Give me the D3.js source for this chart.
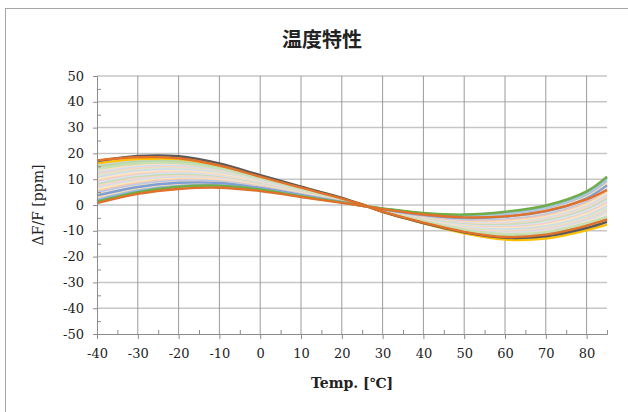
<!DOCTYPE html>
<html>
<head>
<meta charset="utf-8">
<script src="https://cdn.jsdelivr.net/npm/d3@7"></script>
<style>
    body { margin: 0; background: #fff; }
    #chartContainer { width: 628px; height: 412px; }
</style>
</head>
<body>
<div id="chartContainer"></div>
<script>
// temperatures where each sample was read (deg C)
var temps = [-40, -30, -20, -10, 0, 10, 20, 25, 30, 40, 50, 60, 70, 80, 85];
var xTickValues = [-40, -30, -20, -10, 0, 10, 20, 30, 40, 50, 60, 70, 80];
var xMinorValues = [-35, -25, -15, -5, 5, 15, 25, 35, 45, 55, 65, 75, 85];
var yTickValues = [-50, -40, -30, -20, -10, 0, 10, 20, 30, 40, 50];
var yMinorValues = [-45, -35, -25, -15, -5, 5, 15, 25, 35, 45];

// dF/F in ppm per sample, pale ones first, edge curves last
var curveValues = [
    [15.9, 17.6, 17.4, 14.9, 10.8, 6.5, 2.5, 0.2, -2.5, -6.7, -10.2, -12.4, -11.8, -8.6, -6.3],
    [15.2, 17.0, 17.0, 14.6, 10.5, 6.4, 2.4, 0.1, -2.5, -6.5, -10.0, -11.9, -11.3, -8.0, -5.5],
    [14.6, 16.4, 16.5, 14.2, 10.3, 6.2, 2.3, 0.1, -2.4, -6.4, -9.7, -11.5, -10.8, -7.4, -4.8],
    [13.9, 15.9, 16.0, 13.9, 10.1, 6.1, 2.3, 0.1, -2.4, -6.2, -9.4, -11.1, -10.3, -6.8, -4.0],
    [13.2, 15.3, 15.5, 13.5, 9.9, 5.9, 2.2, 0.1, -2.3, -6.1, -9.1, -10.7, -9.8, -6.2, -3.3],
    [12.6, 14.7, 15.0, 13.2, 9.6, 5.8, 2.1, 0.1, -2.3, -5.9, -8.8, -10.2, -9.3, -5.6, -2.5],
    [11.9, 14.2, 14.6, 12.8, 9.4, 5.7, 2.1, 0.0, -2.2, -5.8, -8.6, -9.8, -8.8, -5.0, -1.8],
    [11.3, 13.6, 14.1, 12.5, 9.2, 5.5, 2.0, 0.0, -2.2, -5.6, -8.3, -9.4, -8.3, -4.4, -1.0],
    [10.6, 13.0, 13.6, 12.1, 9.0, 5.4, 1.9, 0.0, -2.1, -5.5, -8.0, -9.0, -7.8, -3.8, -0.3],
    [9.9, 12.5, 13.1, 11.8, 8.7, 5.2, 1.9, 0.0, -2.1, -5.3, -7.7, -8.5, -7.3, -3.2, 0.5],
    [9.3, 11.9, 12.6, 11.4, 8.5, 5.1, 1.8, 0.0, -2.0, -5.2, -7.4, -8.1, -6.8, -2.6, 1.2],
    [8.6, 11.3, 12.2, 11.1, 8.3, 4.9, 1.7, -0.1, -2.0, -5.0, -7.2, -7.7, -6.3, -2.0, 2.0],
    [8.0, 10.8, 11.7, 10.7, 8.1, 4.8, 1.7, -0.1, -1.9, -4.9, -6.9, -7.3, -5.7, -1.3, 2.7],
    [7.3, 10.2, 11.2, 10.4, 7.8, 4.6, 1.6, -0.1, -1.9, -4.7, -6.6, -6.8, -5.2, -0.7, 3.5],
    [6.6, 9.6, 10.7, 10.0, 7.6, 4.5, 1.5, -0.1, -1.8, -4.6, -6.3, -6.4, -4.7, -0.1, 4.2],
    [6.0, 9.0, 10.2, 9.7, 7.4, 4.4, 1.4, -0.1, -1.8, -4.4, -6.0, -6.0, -4.2, 0.5, 5.0],
    [5.3, 8.5, 9.8, 9.3, 7.2, 4.2, 1.4, -0.2, -1.7, -4.3, -5.8, -5.6, -3.7, 1.1, 5.7],
    [4.7, 7.9, 9.3, 9.0, 6.9, 4.1, 1.3, -0.2, -1.7, -4.1, -5.5, -5.1, -3.2, 1.7, 6.5],
    [4.0, 7.3, 8.8, 8.6, 6.7, 3.9, 1.2, -0.2, -1.6, -4.0, -5.2, -4.7, -2.7, 2.3, 7.2],
    [3.3, 6.8, 8.3, 8.3, 6.5, 3.8, 1.2, -0.2, -1.6, -3.8, -4.9, -4.3, -2.2, 2.9, 8.0],
    [2.7, 6.2, 7.8, 7.9, 6.3, 3.6, 1.1, -0.2, -1.5, -3.7, -4.6, -3.9, -1.7, 3.5, 8.7],
    [2.0, 5.6, 7.4, 7.6, 6.1, 3.5, 1.0, -0.3, -1.5, -3.5, -4.4, -3.5, -1.2, 4.1, 9.5],
    [1.4, 5.1, 6.9, 7.2, 5.8, 3.3, 1.0, -0.3, -1.4, -3.4, -4.1, -3.0, -0.7, 4.7, 10.2],
    [14.8, 16.7, 16.8, 14.5, 10.5, 6.4, 2.4, 0.1, -2.5, -6.5, -9.9, -11.8, -11.2, -8.0, -5.7],
    [14.0, 16.1, 16.3, 14.1, 10.3, 6.3, 2.3, 0.1, -2.4, -6.3, -9.6, -11.3, -10.5, -7.0, -4.6],
    [3.7, 7.0, 8.6, 8.5, 6.6, 3.9, 1.2, -0.2, -1.6, -3.9, -5.1, -4.5, -2.5, 2.6, 7.6],
    [1.9, 5.4, 7.3, 7.6, 6.1, 3.5, 1.0, -0.3, -1.4, -3.3, -3.9, -2.9, -0.5, 4.9, 10.5],
    [1.3, 5.0, 7.1, 7.5, 6.0, 3.4, 1.0, -0.3, -1.3, -3.1, -3.7, -2.6, -0.2, 5.3, 11.0],
    [0.7, 4.3, 6.2, 6.7, 5.4, 3.1, 0.8, -0.3, -1.6, -3.7, -4.8, -4.4, -2.3, 2.2, 5.8],
    [16.2, 17.8, 17.8, 15.4, 11.4, 7.0, 2.7, 0.2, -2.7, -7.1, -11.0, -13.4, -13.0, -9.8, -7.6],
    [17.0, 19.0, 18.9, 16.1, 11.6, 7.1, 2.8, 0.2, -2.7, -7.0, -10.6, -12.7, -12.1, -8.9, -6.5],
    [17.3, 18.5, 18.1, 15.3, 11.0, 6.7, 2.5, 0.1, -2.6, -6.8, -10.4, -12.4, -11.5, -8.0, -5.6]
];
var curveColors = [
    '#f8cbad', '#c9d5ee', '#f4d9cc', '#dbe3f2', '#fbe0c8', '#d0ddef', '#f7d5c5', '#d8e6cc',
    '#cfdaf0', '#fce8c0', '#f5cfc0', '#d6e4f2', '#c8dcbb', '#f8d8c4', '#d2dcef', '#fde6b8',
    '#f4c9b4', '#b6c9e8', '#fbe2c0', '#f2c2a8', '#f9dcb0', '#a9c0e4', '#c5dcb3',
    '#b8d7a3', '#c6e0b4', '#7f9fd6', '#8db9e2', '#70ad47', '#e0702a',
    '#ffc000', '#595959', '#e2712b'
];

var width = 628,
    height = 412,
    plotLeft = 97,
    plotRight = 607,
    plotTop = 76,
    plotBottom = 334,
    labelFont = '"DejaVu Serif", "Liberation Serif", serif';

var svg = d3.select('#chartContainer').append('svg')
    .attr('width', width)
    .attr('height', height);

// chart frame
svg.append('rect')
    .attr('x', 5.5).attr('y', 8.5)
    .attr('width', 660).attr('height', 430)
    .attr('fill', '#fff')
    .attr('stroke', '#a6a6a6');

var x = d3.scaleLinear().domain([-40, 85]).range([plotLeft, plotRight]),
    y = d3.scaleLinear().domain([-50, 50]).range([plotBottom, plotTop]);

// grid
svg.append('g').selectAll('line')
    .data(yTickValues.filter(function (d) { return d !== -50; }))
    .enter().append('line')
    .attr('x1', plotLeft).attr('x2', plotRight)
    .attr('y1', function (d) { return y(d); }).attr('y2', function (d) { return y(d); })
    .attr('stroke', '#c6c6c6').attr('stroke-width', 1.5);

svg.append('g').selectAll('line')
    .data(xTickValues.filter(function (d) { return d !== -40; }))
    .enter().append('line')
    .attr('x1', function (d) { return x(d); }).attr('x2', function (d) { return x(d); })
    .attr('y1', plotTop).attr('y2', plotBottom)
    .attr('stroke', '#9a9a9a').attr('stroke-width', 1);

// curves
var line = d3.line()
    .x(function (d, i) { return x(temps[i]); })
    .y(function (d) { return y(d); })
    .curve(d3.curveCatmullRom.alpha(0.5));

svg.append('g').selectAll('path')
    .data(curveValues)
    .enter().append('path')
    .attr('d', line)
    .attr('fill', 'none')
    .attr('stroke', function (d, i) { return curveColors[i]; })
    .attr('stroke-width', 2.4)
    .attr('stroke-linejoin', 'round');

// axes
var plainNumber = function (d) { return String(d); };

var styleAxis = function (g) {
    g.select('.domain').attr('stroke', '#8c8c8c');
    g.selectAll('.tick line').attr('stroke', '#8c8c8c');
    g.selectAll('text').attr('fill', '#222').attr('font-family', labelFont).attr('font-size', 13);
};

svg.append('g')
    .attr('transform', 'translate(0,' + plotBottom + ')')
    .call(d3.axisBottom(x).tickValues(xTickValues).tickSize(5).tickSizeOuter(0).tickPadding(10).tickFormat(plainNumber))
    .call(styleAxis);

svg.append('g')
    .attr('transform', 'translate(0,' + plotBottom + ')')
    .call(d3.axisTop(x).tickValues(xMinorValues).tickSize(4).tickSizeOuter(0).tickFormat(''))
    .call(styleAxis);

svg.append('g')
    .attr('transform', 'translate(' + plotLeft + ',0)')
    .call(d3.axisLeft(y).tickValues(yTickValues).tickSize(4).tickSizeOuter(0).tickPadding(9).tickFormat(plainNumber))
    .call(styleAxis);

svg.append('g')
    .attr('transform', 'translate(' + plotLeft + ',0)')
    .call(d3.axisRight(y).tickValues(yMinorValues).tickSize(4).tickSizeOuter(0).tickFormat(''))
    .call(styleAxis);

// titles
svg.append('text')
    .attr('x', 322).attr('y', 47)
    .attr('text-anchor', 'middle')
    .attr('font-family', '"Noto Sans CJK JP", sans-serif')
    .attr('font-weight', 'bold')
    .attr('font-size', 20)
    .attr('fill', '#222')
    .text('温度特性');

svg.append('text')
    .attr('x', (plotLeft + plotRight) / 2).attr('y', 388)
    .attr('text-anchor', 'middle')
    .attr('font-family', labelFont)
    .attr('font-weight', 'bold')
    .attr('font-size', 14)
    .attr('fill', '#222')
    .text('Temp. [℃]');

svg.append('text')
    .attr('transform', 'translate(43,' + (plotTop + plotBottom) / 2 + ') rotate(-90)')
    .attr('text-anchor', 'middle')
    .attr('font-family', labelFont)
    .attr('font-size', 14)
    .attr('fill', '#222')
    .text('ΔF/F [ppm]');
</script>
</body>
</html>
